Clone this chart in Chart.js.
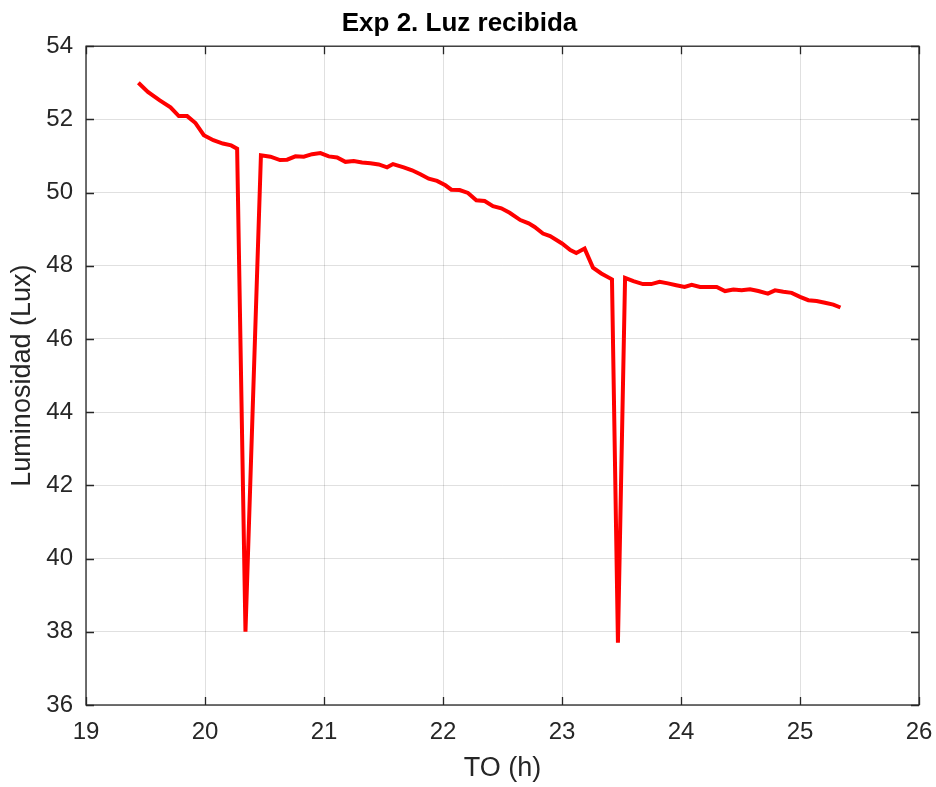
<!DOCTYPE html>
<html>
<head>
<meta charset="utf-8">
<script src="https://cdn.jsdelivr.net/npm/chart.js@4.4.1/dist/chart.umd.min.js"></script>
<style>
  html, body { margin: 0; padding: 0; background: #fff; }
  #wrap { width: 936px; height: 787px; }
</style>
</head>
<body>
<div id="wrap"><canvas id="myChart"></canvas></div>
<script>
// tiempo (h) y luminosidad (lux)
var timeH = [19.44, 19.52, 19.62, 19.71, 19.78, 19.85, 19.92, 19.99, 20.07, 20.15, 20.22, 20.27,
    20.34, 20.47, 20.55, 20.63, 20.69, 20.76, 20.83, 20.90, 20.97, 21.04, 21.11, 21.18, 21.25,
    21.32, 21.39, 21.46, 21.53, 21.58, 21.67, 21.74, 21.81, 21.88, 21.95, 22.02, 22.07, 22.14,
    22.21, 22.28, 22.35, 22.42, 22.49, 22.56, 22.65, 22.72, 22.77, 22.84, 22.90, 23.00, 23.07,
    23.12, 23.19, 23.26, 23.33, 23.42, 23.47, 23.53, 23.60, 23.68, 23.75, 23.82, 23.89, 23.96,
    24.03, 24.09, 24.16, 24.23, 24.30, 24.37, 24.44, 24.51, 24.58, 24.65, 24.73, 24.79, 24.86,
    24.93, 25.00, 25.07, 25.14, 25.21, 25.28, 25.34];
var lux = [53.00, 52.75, 52.52, 52.33, 52.09, 52.09, 51.90, 51.57, 51.43, 51.34, 51.29, 51.20,
    38.00, 51.02, 50.98, 50.89, 50.90, 50.99, 50.98, 51.05, 51.08, 50.99, 50.96, 50.84, 50.86,
    50.82, 50.80, 50.77, 50.69, 50.78, 50.69, 50.61, 50.50, 50.38, 50.32, 50.20, 50.08, 50.07,
    49.99, 49.79, 49.77, 49.63, 49.57, 49.45, 49.25, 49.16, 49.06, 48.88, 48.81, 48.61, 48.43,
    48.35, 48.47, 47.95, 47.79, 47.63, 37.70, 47.67, 47.58, 47.50, 47.50, 47.56, 47.52, 47.47,
    47.42, 47.48, 47.42, 47.42, 47.42, 47.31, 47.35, 47.33, 47.36, 47.31, 47.24, 47.33, 47.29,
    47.26, 47.15, 47.06, 47.04, 46.99, 46.94, 46.86];
var xTicks = [19, 20, 21, 22, 23, 24, 25, 26];
var yTicks = [36, 38, 40, 42, 44, 46, 48, 50, 52, 54];

var cData = [];
for (var i = 0; i < timeH.length; i++) {
    cData.push({ x: timeH[i], y: lux[i] });
}

var axisColor = '#262626';
var fontFam = '"Liberation Sans", Arial, Helvetica, sans-serif';

// caja completa y marcas hacia dentro, estilo MATLAB
const boxPlugin = {
    id: 'boxPlugin',
    afterDraw: function (chart) {
        var ctx = chart.ctx;
        var a = chart.chartArea;
        var xs = chart.scales.x, ys = chart.scales.y;
        var tl = 8;
        ctx.save();
        ctx.strokeStyle = axisColor;
        ctx.lineWidth = 1.3;
        ctx.beginPath();
        xTicks.forEach(function (v) {
            var px = Math.round(xs.getPixelForValue(v)) + 0.5;
            ctx.moveTo(px, a.bottom); ctx.lineTo(px, a.bottom - tl);
            ctx.moveTo(px, a.top); ctx.lineTo(px, a.top + tl);
        });
        yTicks.forEach(function (v) {
            var py = Math.round(ys.getPixelForValue(v)) + 0.5;
            ctx.moveTo(a.left, py); ctx.lineTo(a.left + tl, py);
            ctx.moveTo(a.right, py); ctx.lineTo(a.right - tl, py);
        });
        ctx.stroke();
        ctx.strokeRect(a.left, a.top, a.right - a.left, a.bottom - a.top);
        ctx.restore();
    }
};

const config = {
    type: 'scatter',
    data: {
        datasets: [{
            label: 'Luz recibida',
            data: cData,
            showLine: true,
            borderColor: 'rgb(255, 0, 0)',
            backgroundColor: 'rgb(255, 0, 0)',
            borderWidth: 4,
            pointRadius: 0,
            tension: 0
        }]
    },
    options: {
        responsive: true, maintainAspectRatio: false,
        animation: false,
        layout: { padding: { top: 0, right: 17, left: 0, bottom: 0 } },
        scales: {
            x: {
                type: 'linear',
                min: 19, max: 26,
                afterBuildTicks: function (scale) {
                    scale.ticks = xTicks.map(function (v) { return { value: v }; });
                },
                afterFit: function (scale) {
                    scale.height = 82;
                    scale.paddingLeft = 0;
                    scale.paddingRight = 0;
                },
                grid: { color: 'rgba(0,0,0,0.12)', tickLength: 0, drawTicks: false },
                border: { display: false },
                ticks: {
                    color: axisColor, padding: 13,
                    font: { family: fontFam, size: 24 }
                },
                title: {
                    display: true, text: 'TO (h)', color: axisColor,
                    font: { family: fontFam, size: 27 },
                    padding: { top: 0, bottom: 2 }
                }
            },
            y: {
                min: 36, max: 54,
                afterBuildTicks: function (scale) {
                    scale.ticks = yTicks.map(function (v) { return { value: v }; });
                },
                afterFit: function (scale) { scale.width = 86; },
                grid: { color: 'rgba(0,0,0,0.12)', tickLength: 0, drawTicks: false },
                border: { display: false },
                ticks: {
                    color: axisColor, padding: 13,
                    font: { family: fontFam, size: 24 }
                },
                title: {
                    display: true, text: 'Luminosidad (Lux)', color: axisColor,
                    font: { family: fontFam, size: 27 },
                    padding: { top: 6, bottom: 0 }
                }
            }
        },
        plugins: {
            legend: { display: false },
            tooltip: { enabled: false },
            title: {
                display: true,
                text: 'Exp 2. Luz recibida',
                color: '#000',
                font: { family: fontFam, size: 26, weight: 'bold' },
                padding: { top: 8, bottom: 7 }
            }
        }
    },
    plugins: [boxPlugin]
};

var myChart = new Chart(
    document.getElementById('myChart'),
    config
);
</script>
</body>
</html>
